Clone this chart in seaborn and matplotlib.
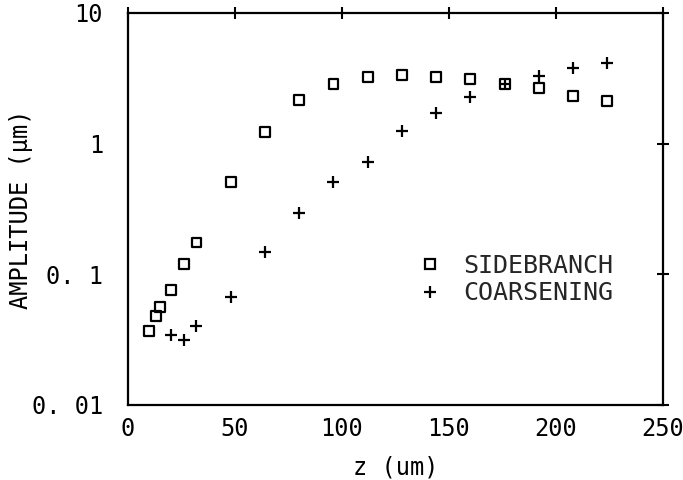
import numpy as np
import pandas as pd
import seaborn as sns
from matplotlib import pyplot as plt
from matplotlib.lines import Line2D

sns.set_theme(style="white")
plt.rcParams['font.family'] = ['DejaVu Sans Mono', 'DejaVu Sans']

# values
side_z = [10, 13, 15, 20, 26, 32, 48, 64, 80, 96, 112, 128, 144, 160, 176, 192, 208, 224]
side_amp = [0.037, 0.048, 0.056, 0.076, 0.12, 0.175, 0.51, 1.22, 2.16, 2.87, 3.26, 3.36,
            3.26, 3.13, 2.85, 2.66, 2.32, 2.12]
coarse_z = [20, 26, 32, 48, 64, 80, 96, 112, 128, 144, 160, 176, 192, 208, 224]
coarse_amp = [0.0345, 0.0316, 0.0405, 0.067, 0.148, 0.294, 0.51, 0.73, 1.24, 1.71, 2.27,
              2.85, 3.3, 3.78, 4.17]
x_ticks = [0, 50, 100, 150, 200, 250]
y_ticks = [0.01, 0.1, 1, 10]
y_ticklabels = ['0. 01', '0. 1', '1', '10']

side = pd.DataFrame({'z': side_z, 'amp': side_amp})
coarse = pd.DataFrame({'z': coarse_z, 'amp': coarse_amp})

fig = plt.figure(figsize=(6.83, 4.8), dpi=100)
ax = fig.add_axes([0.1874, 0.15625, 0.7833, 0.8167])

sns.scatterplot(data=side, x='z', y='amp', marker='s', s=50, facecolors='none',
                edgecolor='black', linewidth=1.6, ax=ax)
sns.scatterplot(data=coarse, x='z', y='amp', marker='+', s=80, color='black',
                linewidth=1.6, ax=ax)

ax.set_yscale('log')
ax.set_xlim(0, 250)
ax.set_ylim(0.01, 10)
ax.set_xticks(x_ticks)
ax.set_xticklabels([str(t) for t in x_ticks])
ax.set_yticks(y_ticks)
ax.set_yticklabels(y_ticklabels)
ax.minorticks_off()
ax.tick_params(direction='inout', length=8, width=1.5, colors='black',
               labelsize=17, top=True, right=True)
ax.tick_params(axis='x', pad=5)
ax.tick_params(axis='y', pad=14)
for sp in ax.spines.values():
    sp.set_color('black')
    sp.set_linewidth(1.6)

ax.set_xlabel('z (um)', fontsize=17, color='black')
ax.set_ylabel('AMPLITUDE (μm)', fontsize=17, color='black')
ax.xaxis.set_label_coords(0.5, -0.13)
ax.yaxis.set_label_coords(-0.178, 0.5)

handles = [Line2D([], [], marker='s', linestyle='', markersize=7, markerfacecolor='none',
                  markeredgecolor='black', markeredgewidth=1.6),
           Line2D([], [], marker='+', linestyle='', markersize=9, color='black',
                  markeredgewidth=1.6)]
ax.legend(handles, ['SIDEBRANCH', 'COARSENING'], frameon=False, fontsize=18,
          loc='center left', bbox_to_anchor=(0.5, 0.32), handlelength=1.0,
          handletextpad=0.8, labelspacing=0.15)

fig.savefig('out.png', dpi=100, facecolor='white')
